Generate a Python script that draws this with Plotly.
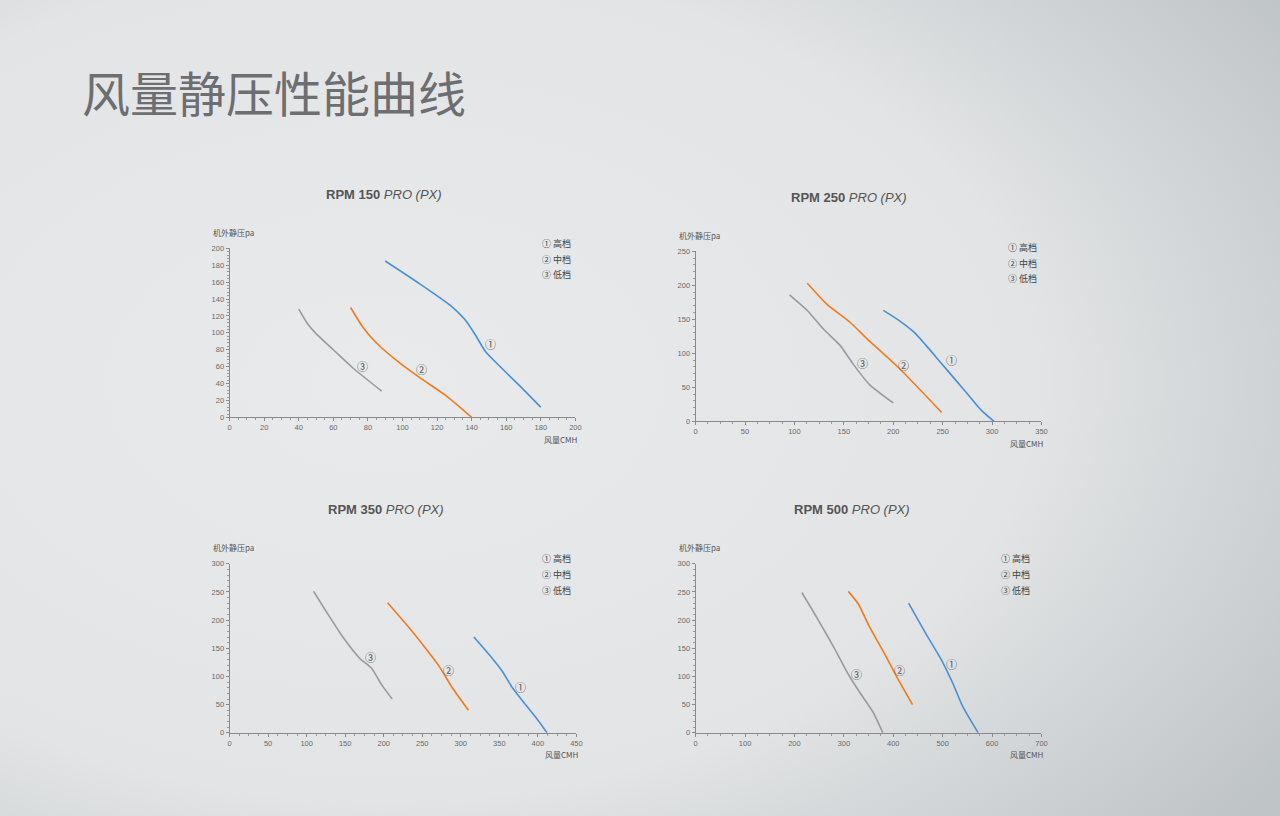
import plotly.graph_objects as go

# panel titles and axis ranges
titles = ["150", "250", "350", "500"]
x_max = [200, 350, 450, 700]
y_max = [200, 250, 300, 300]
x_step = [20, 50, 50, 100]
y_step = [20, 50, 50, 50]

# RPM 150
p1_high_x = [90, 110, 128, 136, 142, 148, 156, 168, 180]
p1_high_y = [185, 158, 132, 116, 98, 78, 61, 37, 12]
p1_mid_x = [70, 77, 85, 98, 110, 125, 140]
p1_mid_y = [130, 107, 88, 65, 47, 26, 0]
p1_low_x = [40, 45, 50, 60, 71, 88]
p1_low_y = [128, 111, 99, 80, 59, 31]
p1_labels = [(151, 87), (111, 57), (77, 61)]

# RPM 250
p2_high_x = [190, 206, 221, 233, 250, 273, 290, 302]
p2_high_y = [163, 148, 131, 112, 83, 44, 15, 0]
p2_mid_x = [113, 133, 156, 173, 206, 249]
p2_mid_y = [203, 172, 146, 122, 78, 13]
p2_low_x = [95, 113, 129, 146, 160, 176, 200]
p2_low_y = [186, 163, 136, 112, 83, 54, 27]
p2_labels = [(259, 90), (210, 83), (169, 86)]

# RPM 350
p3_high_x = [317, 341, 354, 367, 380, 397, 412]
p3_high_y = [170, 132, 109, 80, 57, 28, 0]
p3_mid_x = [205, 229, 251, 272, 289, 310]
p3_mid_y = [231, 193, 156, 118, 80, 40]
p3_low_x = [109, 126, 147, 169, 184, 197, 211]
p3_low_y = [251, 214, 170, 132, 115, 86, 60]
p3_labels = [(378, 81), (284, 112), (183, 134)]

# RPM 500
p4_high_x = [431, 466, 499, 520, 540, 572]
p4_high_y = [230, 176, 127, 89, 48, 0]
p4_mid_x = [309, 329, 352, 382, 406, 439]
p4_mid_y = [251, 229, 188, 141, 101, 50]
p4_low_x = [215, 245, 279, 309, 332, 359, 379]
p4_low_y = [249, 205, 153, 104, 72, 37, 0]
p4_labels = [(518, 122), (413, 111), (326, 105)]

legend_items = ["① 高档", "② 中档", "③ 低档"]
marks = ["①", "②", "③"]
colors = ["#4a90d6", "#f07c1c", "#9b9b9b"]

panels = [
    [(p1_high_x, p1_high_y), (p1_mid_x, p1_mid_y), (p1_low_x, p1_low_y), p1_labels],
    [(p2_high_x, p2_high_y), (p2_mid_x, p2_mid_y), (p2_low_x, p2_low_y), p2_labels],
    [(p3_high_x, p3_high_y), (p3_mid_x, p3_mid_y), (p3_low_x, p3_low_y), p3_labels],
    [(p4_high_x, p4_high_y), (p4_mid_x, p4_mid_y), (p4_low_x, p4_low_y), p4_labels],
]

W, H = 1280, 816
# pixel boxes of each plot area: left, right, top, bottom
boxes = [(229, 577, 247, 418), (698, 1046, 250, 422),
         (229, 578, 566, 737), (698, 1046, 566, 737)]
title_pos = [(384, 193), (852, 196), (386, 511), (855, 511)]
legend_x = [541, 1010, 541, 1003]
legend_y0 = [242, 246, 561, 561]


def px(x, y):
    return x / W, 1 - y / H


fig = go.Figure()
annotations = []
layout_axes = {}

for i, (panel, box) in enumerate(zip(panels, boxes)):
    n = "" if i == 0 else str(i + 1)
    xa, ya = "x" + n, "y" + n
    for k in range(3):
        xs, ys = panel[k]
        fig.add_trace(go.Scatter(x=xs, y=ys, mode="lines", xaxis=xa, yaxis=ya,
                                 line=dict(color=colors[k], width=1.6, shape="spline", smoothing=0.6),
                                 showlegend=False, hoverinfo="skip"))
    for k, (lx, ly) in enumerate(panel[3]):
        annotations.append(dict(x=lx, y=ly, xref=xa, yref=ya, text=marks[k], showarrow=False,
                                xanchor="center", yanchor="middle",
                                font=dict(size=11, color="#555555", family="Noto Sans CJK SC")))

    l, r, t, b = box
    axis_common = dict(showgrid=False, zeroline=False, showline=True, linecolor="#8a8a8a", linewidth=1,
                       ticks="outside", ticklen=3, tickcolor="#8a8a8a",
                       tickfont=dict(size=7.5, color="#6a6a6a", family="Liberation Sans"))
    layout_axes["xaxis" + n] = dict(axis_common, domain=[l / W, r / W], range=[0, x_max[i]],
                                    dtick=x_step[i], tick0=0, anchor=ya,
                                    minor=dict(ticks="outside", ticklen=2, dtick=x_step[i] / 4, tickcolor="#9a9a9a"))
    layout_axes["yaxis" + n] = dict(axis_common, domain=[1 - b / H, 1 - t / H], range=[0, y_max[i]],
                                    dtick=y_step[i], tick0=0, anchor=xa,
                                    minor=dict(ticks="outside", ticklen=2, dtick=y_step[i] / 5, tickcolor="#9a9a9a"))

    tx, ty = px(*title_pos[i])
    annotations.append(dict(x=tx, y=ty, xref="paper", yref="paper", xanchor="center", yanchor="middle",
                            text="<b>RPM " + titles[i] + "</b> <i>PRO (PX)</i>", showarrow=False,
                            font=dict(size=13, color="#555555", family="Liberation Sans Narrow, Liberation Sans")))
    ax, ay = px(l - 19, t - 16)
    annotations.append(dict(x=ax, y=ay, xref="paper", yref="paper", xanchor="left", yanchor="middle",
                            text="机外静压pa", showarrow=False,
                            font=dict(size=8, color="#555555", family="Noto Sans CJK SC")))
    bx, by = px(r + 5, b + 22)
    annotations.append(dict(x=bx, y=by, xref="paper", yref="paper", xanchor="right", yanchor="middle",
                            text="风量CMH", showarrow=False,
                            font=dict(size=8, color="#555555", family="Noto Sans CJK SC")))
    for k, item in enumerate(legend_items):
        gx, gy = px(legend_x[i], legend_y0[i] + 16 * k)
        annotations.append(dict(x=gx, y=gy, xref="paper", yref="paper", xanchor="left", yanchor="middle",
                                text=item, showarrow=False,
                                font=dict(size=9, color="#444444", family="Noto Sans CJK SC")))

mx, my = px(78, 88)
annotations.append(dict(x=mx, y=my, xref="paper", yref="paper", text="风量静压性能曲线",
                        showarrow=False, xanchor="left", yanchor="middle",
                        font=dict(size=48, color="#6d6e71", family="Noto Sans CJK SC")))

fig.update_layout(width=W, height=H, margin=dict(l=0, r=0, t=0, b=0),
                  paper_bgcolor="rgba(0,0,0,0)", plot_bgcolor="rgba(0,0,0,0)",
                  annotations=annotations, **layout_axes)

# soft radial page background behind the transparent figure
page_bg = ("document.body.style.margin='0';"
           "document.documentElement.style.height='100%';"
           "document.body.style.minHeight='100%';"
           "document.documentElement.style.background="
           "'radial-gradient(ellipse 85% 85% at 30% 47%, #e9eaeb 0%, #e2e4e5 60%, #bfc4c7 100%)';")

fig.write_html("out.html", config={"displayModeBar": False}, post_script=page_bg)
